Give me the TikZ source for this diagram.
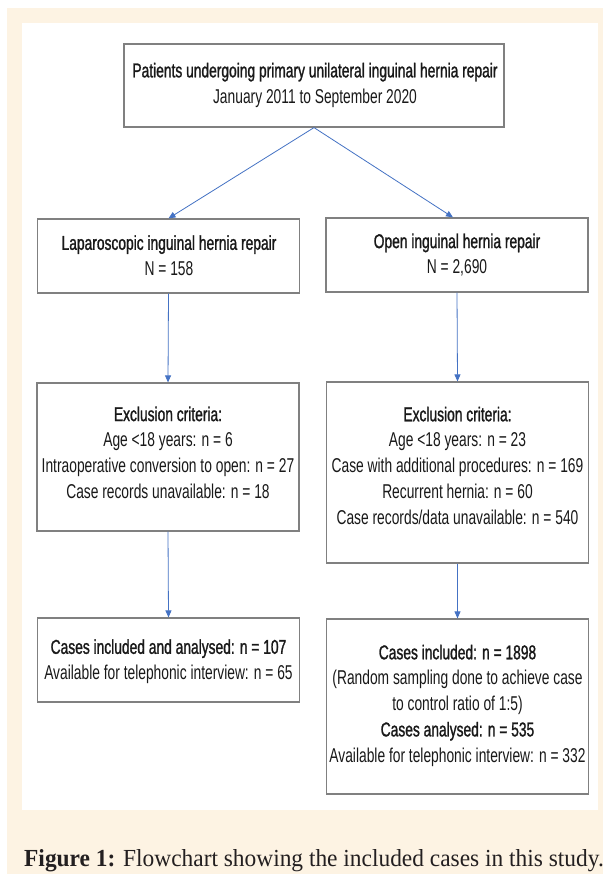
\documentclass[tikz,border=0pt]{standalone}
\usepackage{fontspec}
\setmainfont{Liberation Sans}[FakeStretch=0.69]
\newfontfamily\hdfont{Liberation Sans}[FakeStretch=0.69,FakeBold=1.2]
\newfontfamily\capfont{Liberation Serif}[FakeStretch=0.955]
\usetikzlibrary{arrows.meta}
\definecolor{cream}{RGB}{253,243,227}
\definecolor{boxgray}{RGB}{128,128,128}
\definecolor{arrowblue}{RGB}{68,114,196}
\definecolor{txtcol}{RGB}{25,25,25}
\definecolor{captxt}{RGB}{35,31,32}
\newcommand\hd[1]{{\hdfont #1}}
\tikzset{
  box/.style={draw=boxgray, line width=1.2pt, inner sep=0pt, minimum width=262pt},
  txtnode/.style={align=center, font=\fontsize{20}{25.7}\selectfont, text=txtcol, inner sep=0pt},
  arr/.style={draw=arrowblue, line width=0.8pt, -{Triangle[length=7pt,width=6pt]}},
}
\begin{document}
\begin{tikzpicture}[x=1pt,y=-1pt]
\useasboundingbox (0,0) rectangle (603,874);
\fill[white] (0,0) rectangle (603,874);
\fill[cream] (7,8) rectangle (603,874);
\fill[white] (22,23) rectangle (598,810);

% boxes
\node[box, minimum width=380pt, minimum height=83pt] (top) at (314,85.5) {};
\node[box, minimum height=74pt] (l2) at (168.5,256) {};
\node[box, minimum height=74pt] (r2) at (457,255) {};
\node[box, minimum height=148pt] (l3) at (168,457) {};
\node[box, minimum height=181pt] (r3) at (457.5,472.5) {};
\node[box, minimum height=84pt] (l4) at (168.5,660) {};
\node[box, minimum height=175pt] (r4) at (457.5,706.5) {};

% texts
\node[txtnode] (toptext) at (315,85) {\hd{Patients undergoing primary unilateral inguinal hernia repair}\\January 2011 to September 2020};
\node[txtnode] (l2text) at (169,255.5) {\hd{Laparoscopic inguinal hernia repair}\\N = 158};
\node[txtnode] (r2text) at (457,255) {\hd{Open inguinal hernia repair}\\N = 2,690};
\node[txtnode] (l3text) at (168,452.5) {\hd{Exclusion criteria:}\\Age <18 years: n = 6\\Intraoperative conversion to open: n = 27\\Case records unavailable: n = 18};
\node[txtnode] (r3text) at (457.5,465.5) {\hd{Exclusion criteria:}\\Age <18 years: n = 23\\Case with additional procedures: n = 169\\Recurrent hernia: n = 60\\Case records/data unavailable: n = 540};
\node[txtnode] (l4text) at (168.5,661.5) {\hd{Cases included and analysed: n = 107}\\Available for telephonic interview: n = 65};
\node[txtnode] (r4text) at (457.5,705.5) {\hd{Cases included: n = 1898}\\(Random sampling done to achieve case\\to control ratio of 1:5)\\\hd{Cases analysed: n = 535}\\Available for telephonic interview: n = 332};

% arrows
\draw[arr] (top.south) -- (l2.north);
\draw[arr] (top.south) -- ([xshift=-4pt]r2.north);
\draw[arr] (l2.south) -- (l3.north);
\draw[arr] (r2.south) -- (r3.north);
\draw[arr] (l3.south) -- (l4.north);
\draw[arr] (r3.south) -- (r4.north);

% caption
\node[anchor=base west, font=\capfont\fontsize{24.5}{28}\selectfont, text=captxt, inner sep=0pt] (cap) at (24,866) {\textbf{Figure 1:} Flowchart showing the included cases in this study.};
\end{tikzpicture}
\end{document}
